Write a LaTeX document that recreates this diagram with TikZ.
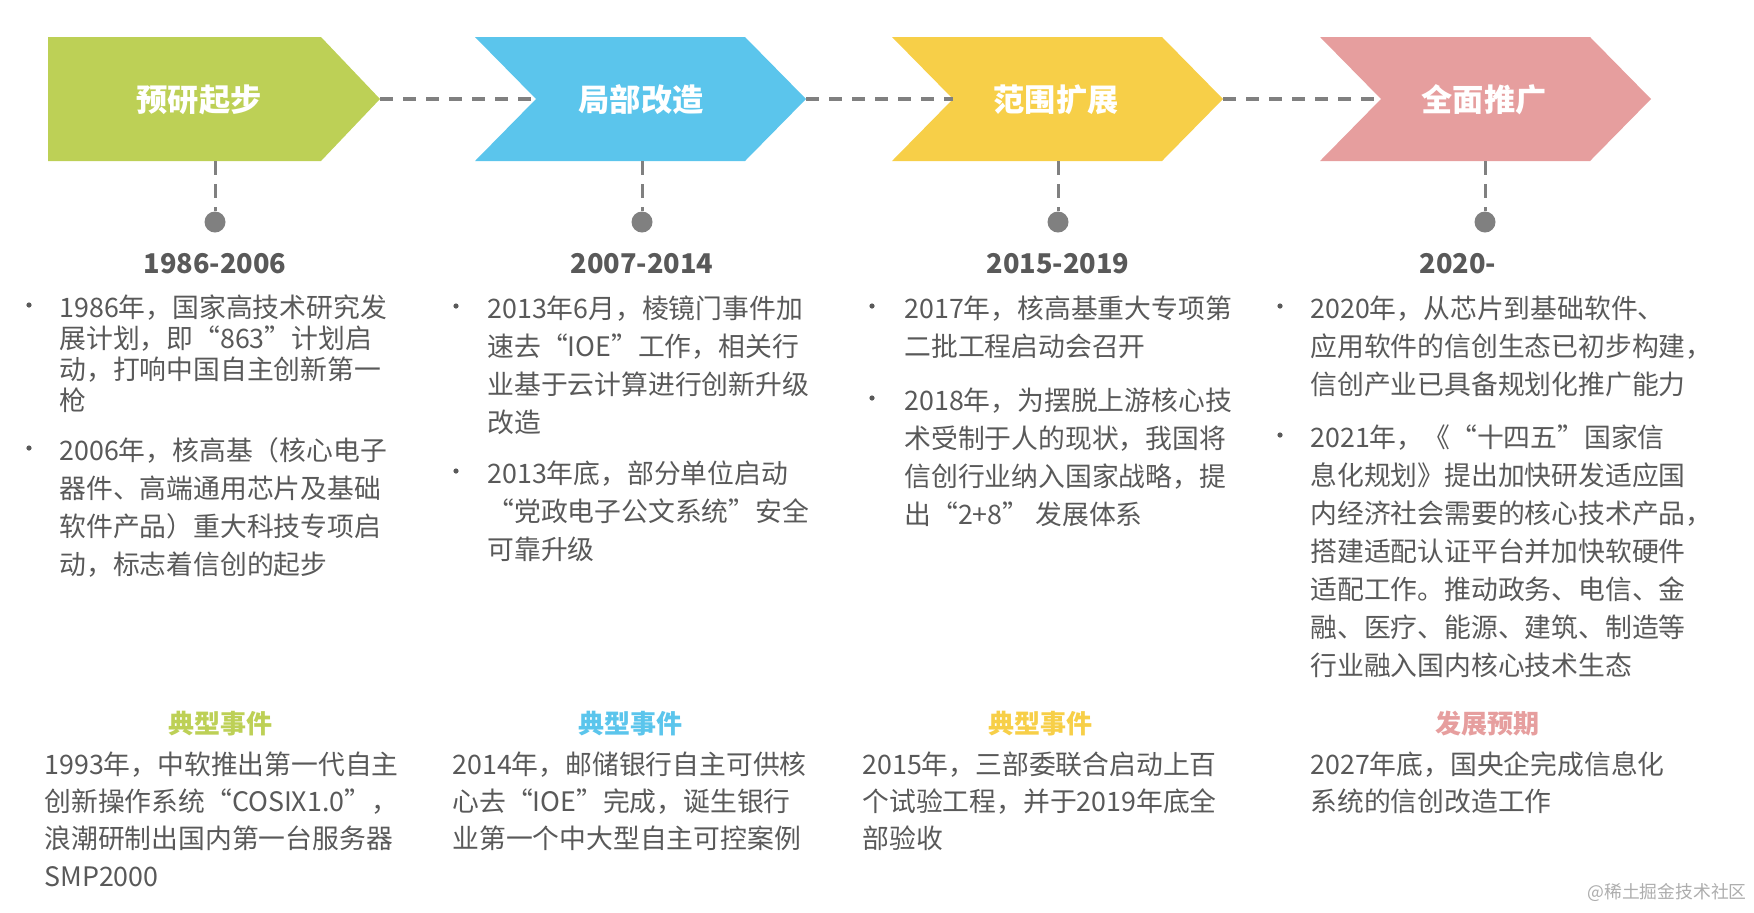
\documentclass[tikz,border=0pt]{standalone}
\usepackage{fontspec}
\setmainfont{Noto Sans CJK SC}

\definecolor{stagegreen}{HTML}{BDD056}
\definecolor{stageblue}{HTML}{5BC5EC}
\definecolor{stageyellow}{HTML}{F7CF48}
\definecolor{stagepink}{HTML}{E69E9E}
\definecolor{linegray}{HTML}{808080}
\definecolor{textgray}{HTML}{595959}

\tikzset{
    stagetitle/.style={text=white, font=\fontsize{15.6}{18}\selectfont\bfseries},
    yearlabel/.style={text=textgray, font=\fontsize{13.6}{16}\selectfont\bfseries},
    eventtitle/.style={font=\fontsize{13}{15}\selectfont\bfseries},
    bodytext/.style={anchor=north west, align=left, inner sep=0pt, text=textgray,
        font=\fontsize{13.4}{19}\selectfont},
    bulletdot/.style={circle, fill=textgray, inner sep=0pt, minimum size=2.6pt},
    milestone/.style={circle, fill=linegray, inner sep=0pt, minimum size=10.5pt},
    linkline/.style={linegray, line width=1.6pt, dash pattern=on 6.5pt off 5pt},
    dropline/.style={linegray, line width=1.5pt, dash pattern=on 7pt off 4.5pt}
}

\begin{document}
\begin{tikzpicture}[x=0.5pt, y=-0.5pt]
    \useasboundingbox (0,0) rectangle (1754,912);

    % Draw stage arrows
    \fill[stagegreen] (48,37) -- (321,37) -- (380,99) -- (321,161) -- (48,161) -- cycle;
    \coordinate (tipA) at (380,99);
    \foreach \l/\c/\n in {475/stageblue/B, 892/stageyellow/C, 1320/stagepink/D} {
        \fill[\c] (\l,37) -- (\l+270,37) -- (\l+331,99) -- (\l+270,161) -- (\l,161) -- (\l+61,99) -- cycle;
        \coordinate (notch\n) at (\l+61,99);
        \coordinate (tip\n) at (\l+331,99);
    }

    % Stage titles
    \node[stagetitle] (titleA) at (199,100) {预研起步};
    \node[stagetitle] (titleB) at (641,100) {局部改造};
    \node[stagetitle] (titleC) at (1056,100) {范围扩展};
    \node[stagetitle] (titleD) at (1484,100) {全面推广};

    % Dashed links between stages
    \draw[linkline] (tipA) -- (notchB);
    \draw[linkline] (tipB) -- (notchC);
    \draw[linkline] (tipC) -- (notchD);

    % Milestone drops
    \foreach \n/\x in {A/215, B/642, C/1058, D/1485} {
        \coordinate (base\n) at (\x,161);
        \node[milestone] (dot\n) at (\x,222) {};
        \draw[dropline] (base\n) -- (dot\n.north);
    }

    % Years
    \node[yearlabel] (yearA) at (215,264) {1986-2006};
    \node[yearlabel] (yearB) at (642,264) {2007-2014};
    \node[yearlabel] (yearC) at (1058,264) {2015-2019};
    \node[yearlabel] (yearD) at (1458,264) {2020-};

    % Bullet points
    \node[bulletdot] (bulA1) at (29,305) {};
    \node[bodytext, font=\fontsize{13.4}{15.5}\selectfont] (itemA1) at (59,294)
        {1986年，国家高技术研究发\\展计划，即“863”计划启\\动，打响中国自主创新第一\\枪};
    \node[bulletdot] (bulA2) at (29,448) {};
    \node[bodytext] (itemA2) at (59,437)
        {2006年，核高基（核心电子\\器件、高端通用芯片及基础\\软件产品）重大科技专项启\\动，标志着信创的起步};

    \node[bulletdot] (bulB1) at (456,306) {};
    \node[bodytext] (itemB1) at (487,295)
        {2013年6月，棱镜门事件加\\速去“IOE”工作，相关行\\业基于云计算进行创新升级\\改造};
    \node[bulletdot] (bulB2) at (456,471) {};
    \node[bodytext] (itemB2) at (487,460)
        {2013年底，部分单位启动\\“党政电子公文系统”安全\\可靠升级};

    \node[bulletdot] (bulC1) at (872,306) {};
    \node[bodytext] (itemC1) at (904,295)
        {2017年，核高基重大专项第\\二批工程启动会召开};
    \node[bulletdot] (bulC2) at (872,398) {};
    \node[bodytext] (itemC2) at (904,387)
        {2018年，为摆脱上游核心技\\术受制于人的现状，我国将\\信创行业纳入国家战略，提\\出“2+8” 发展体系};

    \node[bulletdot] (bulD1) at (1280,306) {};
    \node[bodytext] (itemD1) at (1310,295)
        {2020年，从芯片到基础软件、\\应用软件的信创生态已初步构建，\\信创产业已具备规划化推广能力};
    \node[bulletdot] (bulD2) at (1280,435) {};
    \node[bodytext] (itemD2) at (1310,424)
        {2021年，《“十四五”国家信\\息化规划》提出加快研发适应国\\内经济社会需要的核心技术产品，\\搭建适配认证平台并加快软硬件\\适配工作。推动政务、电信、金\\融、医疗、能源、建筑、制造等\\行业融入国内核心技术生态};

    % Typical events
    \node[eventtitle, text=stagegreen] (eventA) at (220,724) {典型事件};
    \node[eventtitle, text=stageblue] (eventB) at (630,724) {典型事件};
    \node[eventtitle, text=stageyellow] (eventC) at (1040,724) {典型事件};
    \node[eventtitle, text=stagepink] (eventD) at (1487,724) {发展预期};

    \node[bodytext, font=\fontsize{13.4}{18.7}\selectfont] (noteA) at (44,751)
        {1993年，中软推出第一代自主\\创新操作系统“COSIX1.0”，\\浪潮研制出国内第一台服务器\\SMP2000};
    \node[bodytext, font=\fontsize{13.4}{18.7}\selectfont] (noteB) at (452,751)
        {2014年，邮储银行自主可供核\\心去“IOE”完成，诞生银行\\业第一个中大型自主可控案例};
    \node[bodytext, font=\fontsize{13.4}{18.7}\selectfont] (noteC) at (862,751)
        {2015年，三部委联合启动上百\\个试验工程，并于2019年底全\\部验收};
    \node[bodytext, font=\fontsize{13.4}{18.7}\selectfont] (noteD) at (1310,751)
        {2027年底，国央企完成信息化\\系统的信创改造工作};

    % Watermark
    \node[anchor=east, inner sep=0pt, text=black!32, font=\fontsize{8.9}{10}\selectfont] (mark) at (1747,892) {@稀土掘金技术社区};
\end{tikzpicture}
\end{document}
